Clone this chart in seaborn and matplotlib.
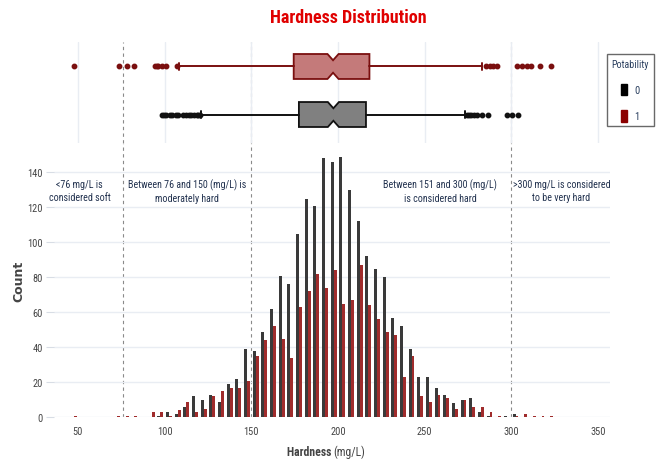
import numpy as np
import pandas as pd
import matplotlib
matplotlib.use("Agg")
import matplotlib.pyplot as plt
from matplotlib import font_manager
from matplotlib.font_manager import FontProperties
from matplotlib.patches import Patch
import seaborn as sns

# ---------------- data ----------------
bin_starts = [45, 50, 55, 60, 65, 70, 75, 80, 85, 90, 95, 100, 105, 110, 115, 120,
              125, 130, 135, 140, 145, 150, 155, 160, 165, 170, 175, 180, 185, 190,
              195, 200, 205, 210, 215, 220, 225, 230, 235, 240, 245, 250, 255, 260,
              265, 270, 275, 280, 285, 290, 295, 300, 305, 310, 315, 320]
bin_width = 5
count_pot0 = [0, 0, 0, 0, 0, 0, 0, 0, 0, 0, 1, 3, 2, 6, 12, 10,
              13, 9, 19, 22, 39, 38, 49, 62, 81, 76, 105, 125, 121, 148,
              146, 149, 130, 112, 92, 85, 80, 57, 52, 39, 23, 23, 17, 13,
              8, 10, 11, 3, 1, 0, 1, 2, 0, 0, 0, 0]
count_pot1 = [1, 0, 0, 0, 0, 1, 1, 1, 0, 3, 3, 1, 4, 9, 3, 5,
              12, 15, 17, 17, 21, 35, 44, 52, 45, 34, 63, 72, 82, 74,
              84, 65, 67, 87, 64, 56, 49, 47, 23, 35, 12, 9, 13, 11,
              5, 10, 6, 6, 3, 1, 0, 1, 2, 1, 1, 1]

# box-plot summaries (Potability 1 on top, Potability 0 below)
box_labels = ["1", "0"]
box_q1 = [174.5, 177.5]
box_med = [197.2, 197.4]
box_q3 = [218.2, 216.2]
box_whislo = [108.5, 121.0]
box_whishi = [283.0, 273.3]
box_fliers = [
    [47.9, 73.8, 78.1, 82.3, 94.4, 95.4, 96.4, 98.3, 100.8, 106.9,
     285.6, 287.5, 289.4, 291.9, 303.1, 306.0, 308.9, 311.2, 316.9, 322.7],
    [98.3, 99.5, 101.0, 103.0, 104.5, 106.5, 107.9, 110.8, 112.5, 114.0,
     115.5, 117.0, 118.5, 119.5, 120.4,
     274.3, 275.5, 277.0, 278.5, 280.5, 283.0, 286.8, 297.4, 300.2, 304.0],
]

threshold_values = [76, 150, 300]
annotation_texts = ["<76 mg/L is\nconsidered soft",
                    "Between 76 and 150 (mg/L) is\nmoderately hard",
                    "Between 151 and 300 (mg/L)\nis considered hard",
                    ">300 mg/L is considered\nto be very hard"]
annotation_x = [51, 113, 259, 329]
y_ticks = [0, 20, 40, 60, 80, 100, 120, 140]
x_ticks = [50, 100, 150, 200, 250, 300, 350]

# ---------------- fonts ----------------
sns.set_theme(style="white")
plt.rcParams["font.family"] = ["DejaVu Sans"]


def _is_cond(f):
    st = f.stretch
    if isinstance(st, str):
        return "condensed" in st.lower() or "narrow" in f.name.lower() \
            or "condensed" in f.name.lower()
    try:
        return int(st) < 500
    except Exception:
        return False


def _wt(f):
    w = f.weight
    if isinstance(w, str):
        return 700 if "bold" in w.lower() else 400
    return int(w)


cond_fonts = [f for f in font_manager.fontManager.ttflist
              if _is_cond(f) and f.style == "normal"]
pref = ["Liberation Sans Narrow", "Roboto Condensed", "Open Sans Condensed",
        "Open Sans", "DejaVu Sans", "Noto Sans", "Lato", "Inter", "Roboto"]


def pick(bold):
    for name in pref + [None]:
        for f in cond_fonts:
            if name is not None and f.name != name:
                continue
            if (_wt(f) >= 600) == bold:
                return f.fname
    return None


reg_path = pick(False)
bold_path = pick(True) or reg_path
HAVE_COND = reg_path is not None
SCALE = 1.0 if HAVE_COND else 0.8


def fp(size, bold=False):
    size = size * SCALE
    if HAVE_COND:
        return FontProperties(fname=bold_path if bold else reg_path, size=size)
    return FontProperties(family="DejaVu Sans", size=size,
                          weight="bold" if bold else "normal")


TXT = "#2a3f5f"
TICK = "#444444"
GRID = "#e9edf3"
DARK = "#3a3a3a"
RED = "#a02c2c"

W, H = 657, 464
fig = plt.figure(figsize=(W / 100, H / 100), dpi=100)


def fx(px):
    return px / W


def fy(py):
    return 1 - py / H


main_l, main_r, main_b, main_t = 54, 610, 418.3, 143.5
box_t = 43
ax = fig.add_axes([fx(main_l), fy(main_b), fx(main_r - main_l), (main_b - main_t) / H])
axb = fig.add_axes([fx(main_l), fy(main_t), fx(main_r - main_l), (main_t - box_t) / H],
                   sharex=ax)

# ---------------- histogram ----------------
centers = [s + bin_width / 2 for s in bin_starts]
edges = bin_starts + [bin_starts[-1] + bin_width]
df = pd.DataFrame({
    "Hardness": centers + centers,
    "Count": count_pot0 + count_pot1,
    "Potability": [0] * len(centers) + [1] * len(centers),
})
sns.histplot(data=df, x="Hardness", weights="Count", hue="Potability",
             hue_order=[0, 1], bins=edges, multiple="dodge", shrink=0.68,
             palette={0: DARK, 1: RED}, alpha=1.0, linewidth=0,
             legend=False, ax=ax)

ax.set_xlim(36.2, 357)
ax.set_ylim(0, 157)
ax.set_yticks(y_ticks)
ax.set_xticks(x_ticks)
ax.grid(axis="y", color=GRID, linewidth=1)
ax.grid(axis="x", visible=False)
ax.set_axisbelow(True)
for s in ax.spines.values():
    s.set_visible(False)
ax.tick_params(axis="y", length=6, width=0.8, color="#d8dde5", pad=2,
               labelcolor=TICK, left=True)
ax.tick_params(axis="x", length=0, pad=6, labelcolor=TICK)
tick_fp = fp(7.5)
for lab in ax.get_xticklabels() + ax.get_yticklabels():
    lab.set_fontproperties(tick_fp)
ax.set_xlabel("")
ax.set_ylabel("Count", fontsize=9, fontweight="bold", color=TICK,
              family="DejaVu Sans")
ax.yaxis.set_label_coords((25 - main_l) / (main_r - main_l), 0.5)

ax.text(0.503, -0.125, "Hardness ", transform=ax.transAxes, ha="right", va="center",
        fontproperties=fp(8.5, True), color=TICK)
ax.text(0.503, -0.125, "(mg/L)", transform=ax.transAxes, ha="left", va="center",
        fontproperties=fp(8.5), color=TICK)

for xv, t in zip(annotation_x, annotation_texts):
    ax.text(xv, 129.6, t, ha="center", va="center", fontproperties=fp(7.2),
            color="#22324f", linespacing=1.4)

for v in threshold_values:
    ax.axvline(v, color="#8a8a8a", linestyle=(0, (3, 3)), linewidth=0.8, zorder=0.5)
    axb.axvline(v, color="#8a8a8a", linestyle=(0, (3, 3)), linewidth=0.8, zorder=0.5)

# ---------------- box plots ----------------
stats = []
for i, lab in enumerate(box_labels):
    half = 3.2
    stats.append(dict(label=lab, q1=box_q1[i], med=box_med[i], q3=box_q3[i],
                      whislo=box_whislo[i], whishi=box_whishi[i],
                      fliers=box_fliers[i], cilo=box_med[i] - half,
                      cihi=box_med[i] + half))
bp = axb.bxp(stats, positions=[0, 1], orientation="horizontal", widths=0.52,
             shownotches=True, patch_artist=True, showfliers=True, capwidths=0.16,
             manage_ticks=False)
box_face = ["#c47a7a", "#808080"]
box_edge = ["#7a0f0f", "#111111"]
for i in range(2):
    bp["boxes"][i].set_facecolor(box_face[i])
    bp["boxes"][i].set_edgecolor(box_edge[i])
    bp["boxes"][i].set_linewidth(1.3)
    bp["medians"][i].set_color(box_edge[i])
    bp["medians"][i].set_linewidth(0)
    for w in bp["whiskers"][2 * i:2 * i + 2]:
        w.set_color(box_edge[i])
        w.set_linewidth(1.4)
    for c in bp["caps"][2 * i:2 * i + 2]:
        c.set_color(box_edge[i])
        c.set_linewidth(1.4)
    fl = bp["fliers"][i]
    fl.set_marker("o")
    fl.set_markersize(3.2)
    fl.set_markerfacecolor(box_edge[i])
    fl.set_markeredgecolor(box_edge[i])

axb.set_ylim(1.583, -0.51)
axb.grid(axis="x", color=GRID, linewidth=1)
axb.grid(axis="y", visible=False)
axb.set_axisbelow(True)
for s in axb.spines.values():
    s.set_visible(False)
axb.tick_params(left=False, bottom=False, labelleft=False, labelbottom=False)
axb.set_xlabel("")
axb.set_ylabel("")

# ---------------- title & legend ----------------
fig.text(fx(348), fy(18), "Hardness Distribution", ha="center", va="center",
         fontproperties=fp(13, True), color="#e00000")

handles = [Patch(facecolor="black", edgecolor="black"),
           Patch(facecolor="#8b0000", edgecolor="#8b0000")]
leg = fig.legend(handles=handles, labels=["0", "1"], title="Potability",
                 loc="upper left", bbox_to_anchor=(fx(607), fy(55)),
                 frameon=True, fancybox=False, edgecolor="#444444",
                 handlelength=0.6, handleheight=1.3, handletextpad=0.7,
                 borderpad=0.45, borderaxespad=0, labelspacing=1.45,
                 prop=fp(7.5), title_fontproperties=fp(7.2))
leg.get_frame().set_linewidth(1.0)
leg.get_title().set_color(TXT)
for t in leg.get_texts():
    t.set_color(TXT)

fig.savefig("out.png", dpi=100)
